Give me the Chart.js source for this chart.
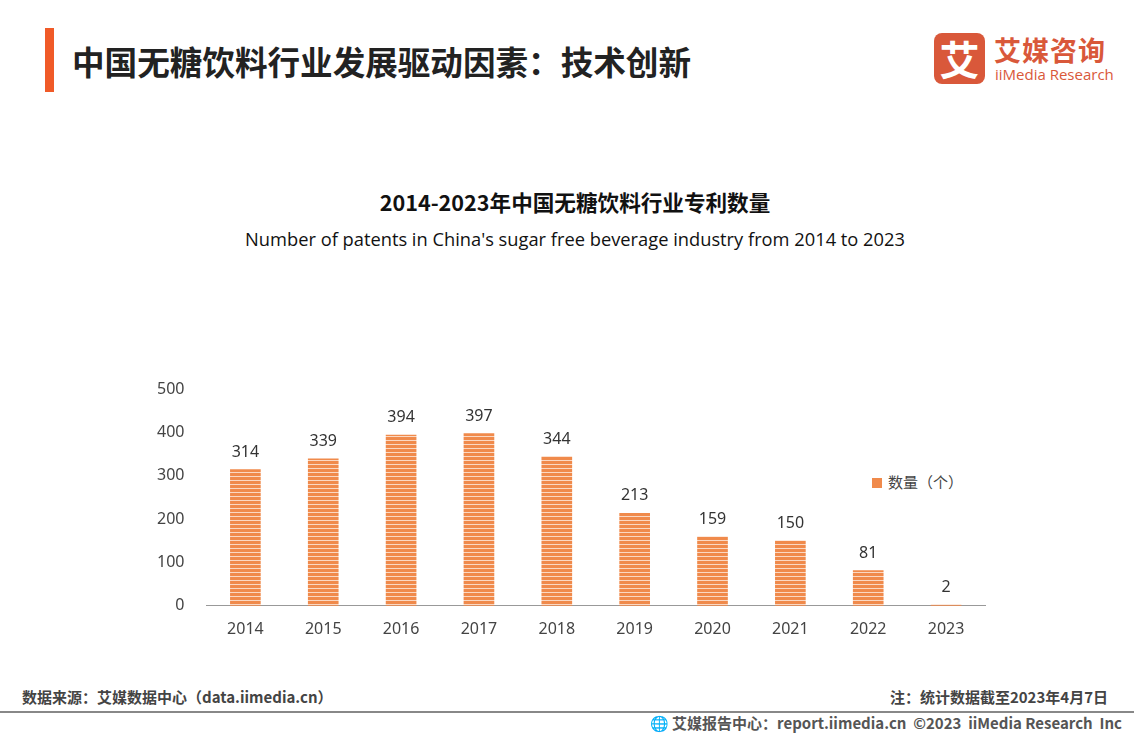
<!DOCTYPE html>
<html><head><meta charset="utf-8">
<script src="https://cdn.jsdelivr.net/npm/chart.js@4/dist/chart.umd.min.js"></script>
<style>
body{margin:0;width:1134px;height:737px;background:#fff;font-family:"Noto Sans CJK SC","Noto Sans",sans-serif;position:relative;overflow:hidden}
.abs{position:absolute}
</style></head><body>
<div class="abs" style="left:45px;top:28px;width:9px;height:64px;background:#F05A28"></div>
<div class="abs" style="left:72px;top:37px;font-size:32.6px;font-weight:bold;color:#222">中国无糖饮料行业发展驱动因素：技术创新</div>
<div class="abs" style="left:934px;top:33px;width:51px;height:51px;background:#D9583A;border-radius:8px;color:#fff;font-size:40px;font-weight:bold;text-align:center;line-height:51px">艾</div>
<div class="abs" style="left:994px;top:30px;font-size:27px;font-weight:bold;color:#D9583A;letter-spacing:1px">艾媒咨询</div>
<div class="abs" style="left:995px;top:64px;font-size:15px;color:#D9583A;font-family:'Open Sans'">iiMedia Research</div>
<div class="abs" style="left:0;width:1150px;top:186px;text-align:center;font-size:21.6px;font-weight:bold;color:#111">2014-2023年中国无糖饮料行业专利数量</div>
<div class="abs" style="left:0;width:1150px;top:226px;text-align:center;font-size:18.3px;color:#111;font-family:'Open Sans'">Number of patents in China's sugar free beverage industry from 2014 to 2023</div>
<div class="abs" style="left:872px;top:471px;font-size:15px;color:#444"><span style="display:inline-block;width:10px;height:10px;background:#F08A4B;margin-right:6px"></span>数量（个）</div>
<div class="abs" style="left:22px;top:686px;font-size:15px;font-weight:bold;color:#444">数据来源：艾媒数据中心（data.iimedia.cn）</div>
<div class="abs" style="right:26px;top:686px;font-size:15px;font-weight:bold;color:#444">注：统计数据截至2023年4月7日</div>
<div class="abs" style="left:0;width:1134px;top:711px;height:2px;background:#888"></div>
<div class="abs" style="right:12px;top:712px;font-size:15px;font-weight:bold;color:#555">🌐 艾媒报告中心：report.iimedia.cn &nbsp;©2023 &nbsp;iiMedia Research &nbsp;Inc</div>
<div class="abs" style="left:143px;top:365px;width:857px;height:280px"><canvas id="c"></canvas></div>
<script>
const years = ["2014","2015","2016","2017","2018","2019","2020","2021","2022","2023"];
const patents = [314,339,394,397,344,213,159,150,81,2];
const yTicks = [0,100,200,300,400,500];

const pc = document.createElement("canvas");
pc.width = 4; pc.height = 4;
const px = pc.getContext("2d");
px.fillStyle = "#F08A4B"; px.fillRect(0,0,4,3);
px.fillStyle = "#FBD8C2"; px.fillRect(0,3,4,1);
const pattern = px.createPattern(pc, "repeat");

const valueLabels = {
  id: "valueLabels",
  afterDatasetsDraw(chart) {
    const ctx = chart.ctx;
    ctx.save();
    ctx.font = "16px 'Noto Sans'";
    ctx.fillStyle = "#333";
    ctx.textAlign = "center";
    chart.getDatasetMeta(0).data.forEach((bar, i) => {
      ctx.fillText(patents[i], bar.x, bar.y - 13);
    });
    ctx.restore();
  }
};

new Chart(document.getElementById("c"), {
  type: "bar",
  data: { labels: years, datasets: [{ data: patents, backgroundColor: pattern, barThickness: 30 }] },
  options: {
    responsive: true, maintainAspectRatio: false, animation: false,
    layout: { padding: { top: 24, right: 15 } },
    plugins: { legend: { display: false }, tooltip: { enabled: false } },
    scales: {
      x: { grid: { display: false }, border: { color: "#999" },
           ticks: { color: "#444", font: { size: 16, family: "Noto Sans" }, padding: 6 } },
      y: { min: 0, max: 500, afterBuildTicks: (s) => { s.ticks = yTicks.map(v => ({ value: v })); },
           grid: { display: false }, border: { display: false },
           ticks: { color: "#444", font: { size: 16, family: "Noto Sans" }, padding: 14 } }
    }
  },
  plugins: [valueLabels]
});
</script>
</body></html>
